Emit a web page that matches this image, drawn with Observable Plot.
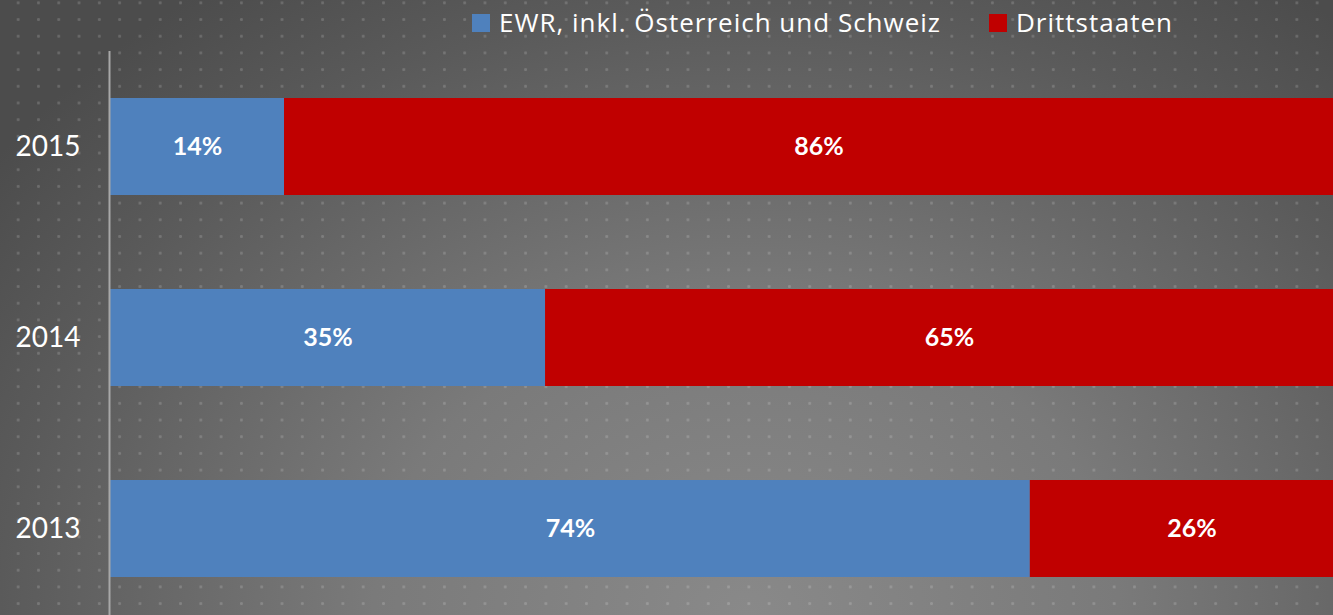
<!DOCTYPE html>
<html>
<head>
<meta charset="utf-8">
<script src="https://cdn.jsdelivr.net/npm/d3@7"></script>
<script src="https://cdn.jsdelivr.net/npm/@observablehq/plot@0.6"></script>
<style>
  html, body { margin: 0; padding: 0; width: 1333px; height: 615px; overflow: hidden; }
  body {
    position: relative;
    font-family: "Open Sans", Lato, sans-serif;
    background-color: #6a6a6a;
    background-image:
      radial-gradient(circle, rgba(255,255,255,0.16) 0 1.2px, rgba(255,255,255,0) 1.8px),
      radial-gradient(ellipse 70% 125% at 56% 100%, #898989 0%, #7a7a7a 40%, #5a5a5a 80%, #4c4c4c 100%);
    background-size: 20.3px 16.7px, 100% 100%;
    background-position: 8px -5.5px, 0 0;
  }
  #chart { position: absolute; left: 0; top: 0; width: 1353px; }
  .legend { position: absolute; top: 0; left: 0; color: white; font-size: 26px; font-family: "Open Sans", sans-serif; letter-spacing: 1px; }
  .legend .item { position: absolute; top: 5px; white-space: nowrap; line-height: 34px; }
  .legend .sw { position: absolute; width: 18px; height: 18px; top: 14px; }
</style>
</head>
<body>
<div id="chart"></div>
<div class="legend" id="legend"></div>
<script>
const years = ["2015", "2014", "2013"];
const groups = ["EWR, inkl. Österreich und Schweiz", "Drittstaaten"];
const ewr = [14, 35, 74];
const dritt = [86, 65, 26];
const colors = ["#4f81bd", "#c00000"];

const data = [];
years.forEach((y, i) => {
  data.push({year: y, group: groups[0], value: ewr[i]});
  data.push({year: y, group: groups[1], value: dritt[i]});
});

const chart = Plot.plot({
  width: 1353,
  height: 624,
  marginLeft: 110,
  marginRight: 0,
  marginTop: 51,
  marginBottom: 0,
  style: {background: "transparent", color: "white", fontFamily: "Lato, 'Open Sans', sans-serif", maxWidth: "none", overflow: "visible"},
  x: {domain: [0, 100], axis: null},
  y: {domain: years, paddingInner: 0.492, paddingOuter: 0.246, label: null},
  color: {domain: groups, range: colors},
  marks: [
    Plot.barX(data, Plot.stackX({x: "value", y: "year", z: "group", fill: "group", order: groups})),
    Plot.text(data, Plot.stackX({x: "value", y: "year", z: "group", order: groups, text: d => d.value + "%", fill: "white", fontSize: 25, fontWeight: "bold"})),
    Plot.axisY({tickSize: 0, tickPadding: 30, fontSize: 28, fill: "white", label: null}),
    Plot.ruleX([0], {stroke: "#a8a8a8", strokeWidth: 2, dx: -1})
  ]
});
document.getElementById("chart").appendChild(chart);

const legend = document.getElementById("legend");
const pos = [{sw: 472, tx: 499}, {sw: 989, tx: 1016}];
groups.forEach((g, i) => {
  const s = document.createElement("div");
  s.className = "sw";
  s.style.left = pos[i].sw + "px";
  s.style.background = colors[i];
  legend.appendChild(s);
  const t = document.createElement("div");
  t.className = "item";
  t.style.left = pos[i].tx + "px";
  t.textContent = g;
  legend.appendChild(t);
});
</script>
</body>
</html>
